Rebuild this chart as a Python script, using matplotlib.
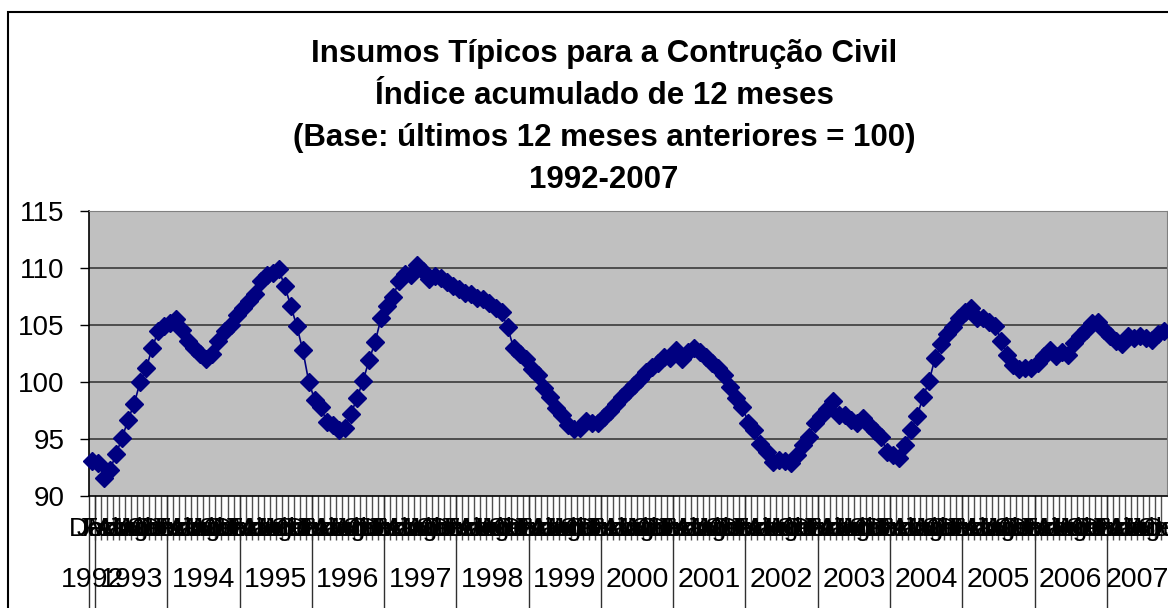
import numpy as np
import matplotlib
matplotlib.use('Agg')
import matplotlib.pyplot as plt
from matplotlib.patches import Rectangle
from matplotlib.transforms import blended_transform_factory

plt.rcParams['font.family'] = ['Liberation Sans', 'DejaVu Sans']

# Data (monthly, Dez/1992 to Out/2007)
years = [1992, 1993, 1994, 1995, 1996, 1997, 1998, 1999,
         2000, 2001, 2002, 2003, 2004, 2005, 2006, 2007]
months_pt = ['Jan', 'Fev', 'Mar', 'Abr', 'Mai', 'Jun',
             'Jul', 'Ago', 'Set', 'Out', 'Nov', 'Dez']

v1992 = [93.1]
v1993 = [92.9, 91.6, 92.3, 93.7, 95.1, 96.7, 98.1, 100.0, 101.2, 103.0, 104.5, 104.9]
v1994 = [105.2, 105.5, 104.6, 103.6, 103.0, 102.5, 102.0, 102.5, 103.6, 104.5, 105.0, 105.9]
v1995 = [106.5, 107.1, 107.7, 108.9, 109.4, 109.6, 109.9, 108.4, 106.7, 104.9, 102.8, 100.0]
v1996 = [98.4, 97.8, 96.5, 96.2, 95.8, 96.0, 97.2, 98.6, 100.1, 101.9, 103.5, 105.6]
v1997 = [106.7, 107.5, 108.9, 109.5, 109.4, 110.3, 109.7, 109.0, 109.3, 109.1, 108.8, 108.4]
v1998 = [108.2, 107.8, 107.7, 107.4, 107.3, 106.9, 106.5, 106.1, 104.8, 103.0, 102.5, 102.0]
v1999 = [101.1, 100.6, 99.5, 98.7, 97.7, 97.1, 96.2, 95.9, 96.0, 96.6, 96.4, 96.4]
v2000 = [96.9, 97.5, 98.1, 98.7, 99.2, 99.7, 100.3, 100.9, 101.3, 101.7, 102.2, 102.1]
v2001 = [102.8, 102.0, 102.6, 103.0, 102.6, 102.2, 101.7, 101.2, 100.6, 99.6, 98.6, 97.8]
v2002 = [96.4, 95.8, 94.6, 93.9, 93.0, 93.2, 93.1, 92.9, 93.6, 94.5, 95.2, 96.4]
v2003 = [97.0, 97.6, 98.3, 97.1, 97.1, 96.7, 96.4, 96.8, 96.2, 95.7, 95.2, 93.9]
v2004 = [93.6, 93.3, 94.5, 95.8, 97.0, 98.7, 100.1, 102.1, 103.3, 104.2, 104.8, 105.6]
v2005 = [106.1, 106.5, 105.6, 105.6, 105.3, 104.9, 103.6, 102.4, 101.5, 101.1, 101.2, 101.2]
v2006 = [101.7, 102.3, 102.8, 102.3, 102.6, 102.4, 103.4, 104.0, 104.6, 105.2, 105.3, 104.6]
v2007 = [104.0, 103.6, 103.3, 104.0, 103.9, 104.0, 103.9, 103.7, 104.2, 104.5]

per_year = [v1992, v1993, v1994, v1995, v1996, v1997, v1998, v1999,
            v2000, v2001, v2002, v2003, v2004, v2005, v2006, v2007]
first_month = 11  # index of 'Dez'

title_lines = ['Insumos Típicos para a Contrução Civil',
               'Índice acumulado de 12 meses',
               '(Base: últimos 12 meses anteriores = 100)',
               '1992-2007']


def main():
    series = [v for yr in per_year for v in yr]
    n = len(series)
    W, H = 1168, 608

    fig = plt.figure(figsize=(W / 100, H / 100), dpi=100)
    ax = fig.add_axes([89 / W, 1 - 496 / H, (1167 - 89) / W, (496 - 211) / H])
    ax.set_facecolor('#c0c0c0')

    x = np.arange(n)
    ax.plot(x, series, color='#000080', lw=1.2, marker='D', ms=9,
            mfc='#000080', mec='#000080', zorder=3, clip_on=False)

    ax.set_xlim(-0.5, n - 0.5)
    ax.set_ylim(90, 115)
    ax.set_yticks(range(90, 116, 5))
    ax.tick_params(axis='y', labelsize=20, length=6.5, width=1, pad=11)
    for v in (95, 100, 105, 110):
        ax.axhline(v, color='#3a3a3a', lw=1.2, zorder=1)

    for s in ('top', 'right'):
        ax.spines[s].set_color('#808080')
    ax.spines['left'].set_linewidth(1.2)
    ax.spines['bottom'].set_linewidth(1.2)

    # category boundaries as long ticks
    ax.set_xticks(np.arange(0.5, n - 0.5, 1))
    ax.set_xticklabels([])
    ax.tick_params(axis='x', length=32, width=1, color='#505050')

    trans = blended_transform_factory(ax.transData, ax.transAxes)
    for i in range(n):
        ax.text(i, -0.116, months_pt[(first_month + i) % 12], transform=trans,
                ha='center', va='center', fontsize=19)

    # year groups
    start = 0
    for yr, vals in zip(years, per_year):
        end = start + len(vals)
        ax.plot([start - 0.5, start - 0.5], [0, -0.5], transform=trans,
                color='#303030', lw=1, clip_on=False)
        ax.text((start + end - 1) / 2, -0.295, str(yr), transform=trans,
                ha='center', va='center', fontsize=20.5)
        start = end

    ys = [54, 96, 138, 180]
    for line, y in zip(title_lines, ys):
        fig.text(604 / W, 1 - y / H, line, ha='center', va='center',
                 fontsize=22.5, fontweight='bold')

    fig.add_artist(Rectangle((8 / W, -0.1), 2, 1.1 - 12 / H, transform=fig.transFigure,
                             fill=False, ec='black', lw=1.5))

    fig.savefig('out.png', dpi=100)


if __name__ == "__main__":
    main()
